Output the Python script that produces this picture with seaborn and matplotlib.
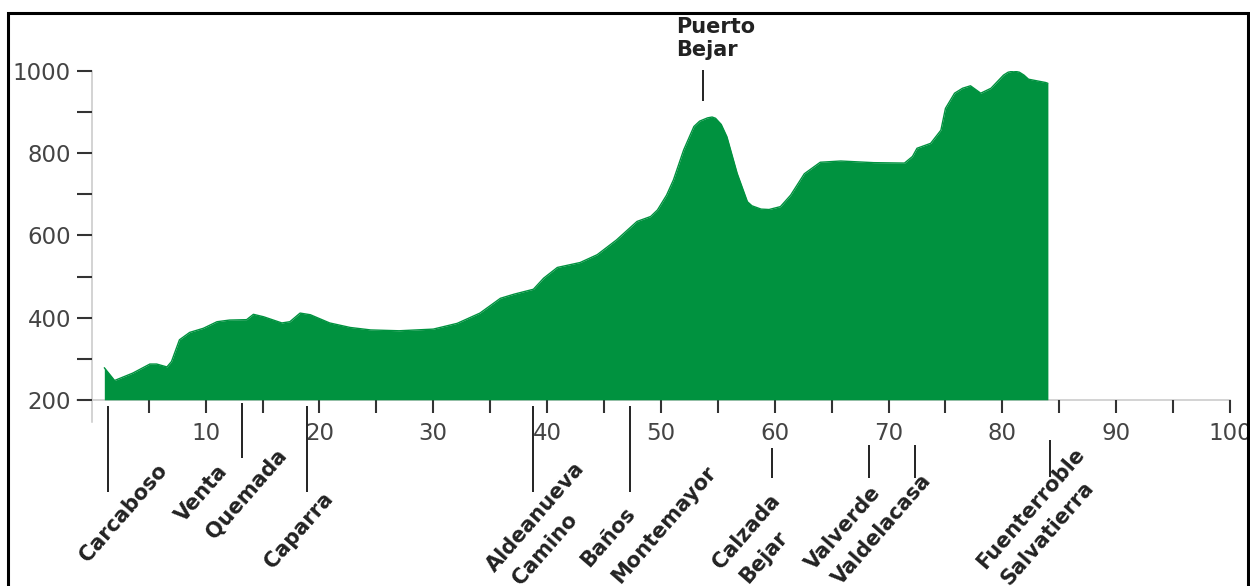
import pandas as pd
import seaborn as sns
import matplotlib.pyplot as plt
from matplotlib.patches import Rectangle
from matplotlib.ticker import MultipleLocator

# === datos del perfil ===
km = [1.1, 2.0, 3.6, 5.1, 5.7, 6.6, 7.0, 7.7, 8.6, 9.8, 11.0, 12.1, 13.6, 14.2,
      15.1, 16.7, 17.4, 18.3, 19.2, 20.9, 22.7, 24.5, 27.0, 30.0, 32.1, 34.1,
      35.9, 37.1, 38.8, 39.7, 40.9, 42.9, 44.4, 46.1, 47.9, 49.1, 49.7, 50.5,
      51.1, 52.0, 52.9, 53.4, 54.1, 54.5, 54.8, 55.3, 55.8, 56.7, 57.6, 58.0,
      58.8, 59.5, 60.5, 61.4, 62.6, 64.0, 65.8, 68.7, 71.4, 72.1, 72.5, 73.7,
      74.6, 75.0, 75.8, 76.5, 77.2, 77.7, 78.1, 79.0, 80.1, 80.5, 81.0, 81.5,
      81.9, 82.3, 83.8, 84.0]
altitud = [278, 247, 265, 287, 287, 280, 293, 346, 364, 374, 390, 394, 395, 408,
           402, 387, 390, 411, 407, 387, 376, 370, 368, 372, 386, 411,
           447, 457, 469, 496, 522, 534, 553, 589, 634, 646, 662, 698,
           735, 808, 865, 878, 886, 888, 885, 870, 840, 751, 682, 672,
           664, 663, 670, 698, 750, 778, 781, 777, 776, 792, 812, 824,
           856, 909, 946, 958, 964, 954, 946, 958, 990, 997, 1000, 997,
           990, 980, 972, 970]

paradas = ["Carcaboso", "Venta Quemada", "Caparra", "Aldeanueva Camino",
           "Baños Montemayor", "Calzada Bejar", "Valverde", "Valdelacasa",
           "Fuenterroble Salvatierra"]
paradas_km = [1.4, 13.2, 18.9, 38.8, 47.3, 59.8, 68.3, 72.3, 84.2]

cima = "Puerto\nBejar"
cima_km = 53.7

df = pd.DataFrame({"km": km, "altitud": altitud})

# === estilo ===
sns.set_theme(style="white")
plt.rcParams['font.family'] = ['DejaVu Sans']

verde = "#00923f"
gris = "#c8c8c8"
texto = "#222222"

fig = plt.figure(figsize=(12.5, 5.86), dpi=100)
ax = fig.add_axes([77 / 1250, 164 / 586, 1153 / 1250, 351 / 586])

ax.fill_between(df["km"], 200, df["altitud"], color=verde, linewidth=0, zorder=1)
sns.lineplot(data=df, x="km", y="altitud", color=verde, linewidth=1, ax=ax, zorder=1)

ax.set_xlim(-1.3, 100)
ax.set_ylim(146, 1000)
ax.set_xlabel("")
ax.set_ylabel("")

# ejes tipo perfil
for s in ["top", "right"]:
    ax.spines[s].set_visible(False)
ax.spines["left"].set_position(("data", 0))
ax.spines["bottom"].set_position(("data", 200))
ax.spines["left"].set_bounds(146, 1000)
ax.spines["bottom"].set_bounds(-1.3, 100)
for s in ["left", "bottom"]:
    ax.spines[s].set_color(gris)
    ax.spines[s].set_linewidth(1.1)
    ax.spines[s].set_zorder(0.5)

ax.set_xticks(range(10, 101, 10))
ax.set_yticks(range(200, 1001, 200))
ax.xaxis.set_minor_locator(MultipleLocator(10, offset=5))
ax.yaxis.set_minor_locator(MultipleLocator(200, offset=100))
ax.tick_params(axis="x", which="both", direction="out", length=9, width=1.5,
               color="#333333", bottom=True, pad=7, labelsize=16.5,
               labelcolor="#444444")
ax.tick_params(axis="y", which="both", direction="out", length=11, width=1.5,
               color="#333333", left=True, pad=4, labelsize=16.5,
               labelcolor="#444444")

# === etiquetas de paradas ===
lineas = [(185, -24), (192, 58), (185, -24), (185, -24), (185, -24),
          (83, 10), (90, 10), (90, 10), (102, 12)]
for x, (y0, y1) in zip(paradas_km, lineas):
    ax.vlines(x, y1, y0, color=texto, linewidth=1.4, clip_on=False, zorder=3)

rotulos = [("Carcaboso", -0.3, -198), ("Venta", 8.1, -100), ("Quemada", 10.8, -140),
           ("Caparra", 15.9, -212), ("Aldeanueva", 35.4, -222), ("Camino", 37.7, -252),
           ("Baños", 43.7, -210), ("Montemayor", 46.4, -250), ("Calzada", 55.3, -214),
           ("Bejar", 57.7, -250), ("Valverde", 63.4, -217), ("Valdelacasa", 65.8, -252),
           ("Fuenterroble", 78.5, -214), ("Salvatierra", 80.6, -252)]
for t, x, y in rotulos:
    ax.text(x, y, t, rotation=49, rotation_mode="anchor", ha="left", va="baseline",
            fontsize=15, fontweight="bold", color=texto, clip_on=False)

ax.vlines(cima_km, 927, 1002, color=texto, linewidth=1.4, clip_on=False)
ax.text(51.3, 1131, cima, ha="left", va="top", fontsize=15, fontweight="bold",
        color=texto, linespacing=1.15, clip_on=False)

# marco
fig.add_artist(Rectangle((8 / 1250, -0.05), 1240 / 1250, 1 - 13 / 586 + 0.05,
                         transform=fig.transFigure, fill=False,
                         edgecolor="black", linewidth=2.2))

fig.savefig("out.png", dpi=100)
